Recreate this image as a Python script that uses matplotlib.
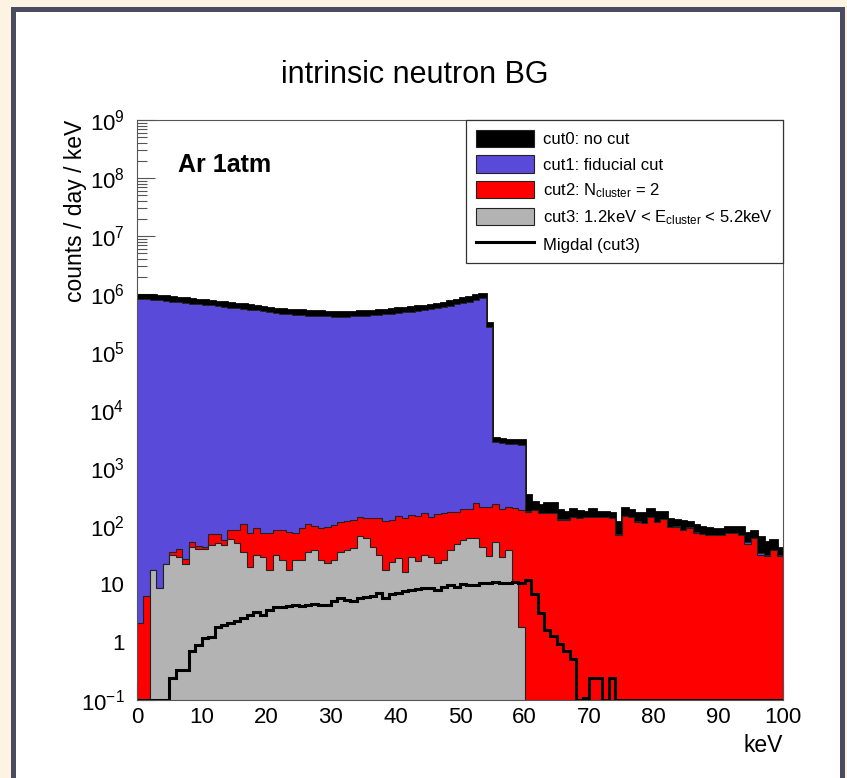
import numpy as np
import matplotlib.pyplot as plt
from matplotlib.patches import Patch, Rectangle
from matplotlib.lines import Line2D
from matplotlib.ticker import LogLocator, NullFormatter

plt.rcParams['font.family'] = ['Liberation Sans', 'DejaVu Sans']
plt.rcParams['mathtext.fontset'] = 'custom'
plt.rcParams['mathtext.rm'] = 'Liberation Sans'
plt.rcParams['mathtext.it'] = 'Liberation Sans:italic'
plt.rcParams['mathtext.bf'] = 'Liberation Sans:bold'

# 1 keV bins from 0 to 100 keV
bin_edges = np.arange(0, 101)

# cut0: no cut
cut0 = [9.7e5, 9.8e5, 9.6e5, 9.4e5, 9.1e5, 8.9e5, 8.6e5, 8.4e5, 8.2e5, 8.0e5,
        7.8e5, 7.6e5, 7.4e5, 7.2e5, 7.0e5, 6.8e5, 6.6e5, 6.4e5, 6.2e5, 6.0e5,
        5.8e5, 5.6e5, 5.5e5, 5.4e5, 5.3e5, 5.2e5, 5.1e5, 5.0e5, 5.0e5, 4.9e5,
        4.9e5, 4.85e5, 4.85e5, 4.9e5, 5.0e5, 5.05e5, 5.15e5, 5.3e5, 5.4e5, 5.5e5,
        5.65e5, 5.75e5, 5.95e5, 6.1e5, 6.3e5, 6.55e5, 6.8e5, 7.1e5, 7.45e5, 7.9e5,
        8.4e5, 8.9e5, 9.5e5, 1.01e6, 3.2e5, 3.3e3, 3.2e3, 3.1e3, 3.0e3, 3.0e3,
        342, 263, 230, 246, 252, 189, 177, 194, 184, 177,
        194, 177, 177, 170, 115, 202, 189, 170, 165, 194,
        177, 177, 130, 127, 124, 119, 104, 95, 91, 88,
        88, 97, 95, 95, 75, 83, 64, 52, 57, 41]

# cut1: fiducial cut
cut1 = [8.1e5, 8.2e5, 8.0e5, 7.8e5, 7.6e5, 7.4e5, 7.2e5, 7.0e5, 6.8e5, 6.65e5,
        6.5e5, 6.35e5, 6.2e5, 6.0e5, 5.85e5, 5.7e5, 5.5e5, 5.35e5, 5.2e5, 5.0e5,
        4.8e5, 4.7e5, 4.6e5, 4.5e5, 4.4e5, 4.3e5, 4.25e5, 4.2e5, 4.15e5, 4.1e5,
        4.06e5, 4.05e5, 4.05e5, 4.1e5, 4.15e5, 4.2e5, 4.3e5, 4.4e5, 4.5e5, 4.6e5,
        4.7e5, 4.8e5, 4.95e5, 5.1e5, 5.25e5, 5.45e5, 5.65e5, 5.9e5, 6.2e5, 6.6e5,
        7.0e5, 7.4e5, 7.9e5, 8.4e5, 2.7e5, 2.8e3, 2.7e3, 2.6e3, 2.6e3, 2.5e3,
        180, 189, 165, 170, 165, 132, 132, 145, 137, 141,
        145, 145, 141, 137, 72, 149, 141, 124, 111, 145,
        119, 130, 95, 101, 85, 95, 78, 73, 70, 70,
        70, 75, 75, 70, 52, 61, 34, 32, 38.5, 32]

# cut2: N_cluster = 2
cut2 = [2.1, 6.2, 17.4, 8.6, 22, 36, 39.6, 26.7, 53.6, 45,
        43, 72, 72, 57, 85, 84, 107, 77, 94, 75,
        77, 84, 85, 80, 75, 93, 107, 100, 91, 97,
        104, 119, 124, 127, 145, 139, 139, 136, 124, 127,
        149, 136, 155, 149, 170, 145, 161, 165, 177, 177,
        196, 198, 246, 215, 210, 240, 194, 210, 202, 189,
        177, 189, 165, 170, 165, 127, 127, 145, 137, 141,
        145, 145, 141, 137, 70, 149, 141, 119, 111, 145,
        119, 130, 95, 97, 85, 91, 75, 73, 70, 70,
        70, 75, 75, 70, 49, 61, 32, 30, 38.5, 30]

# cut3: 1.2 keV < E_cluster < 5.2 keV
cut3 = [0, 0, 17.4, 8.6, 22, 31.6, 29, 22, 44, 39.6,
        39.6, 47, 51.5, 47, 59, 50, 36, 20, 31.6, 29.6,
        17.4, 31.6, 26, 17.4, 26, 26, 36, 38.5, 26, 22.7,
        26, 36, 38.5, 41, 67, 61, 43, 31.6, 17.4, 24,
        27.7, 16.3, 29.6, 25, 31.6, 29.6, 23, 26, 38.5, 48,
        57, 62, 62, 43, 30, 54, 29, 38.5, 11, 1.8,
        0, 0, 0, 0, 0, 0, 0, 0, 0, 0,
        0, 0, 0, 0, 0, 0, 0, 0, 0, 0,
        0, 0, 0, 0, 0, 0, 0, 0, 0, 0,
        0, 0, 0, 0, 0, 0, 0, 0, 0, 0]

# Migdal events after cut3
migdal = [0, 0, 0, 0, 0, 0.24, 0.33, 0.33, 0.7, 0.89,
          1.16, 1.2, 1.84, 1.96, 2.1, 2.3, 2.56, 2.9, 3.3, 2.9,
          3.5, 4.0, 4.0, 4.1, 4.3, 4.1, 4.3, 4.6, 4.3, 4.3,
          5.0, 5.7, 5.3, 5.0, 5.7, 6.0, 6.2, 6.9, 5.7, 6.7,
          6.9, 7.7, 7.9, 8.1, 8.4, 8.6, 7.9, 9.0, 9.6, 9.0,
          9.9, 9.6, 9.6, 10.3, 10.4, 11, 10.3, 10.4, 11, 10.6,
          11.7, 6.7, 3.2, 1.6, 1.29, 0.92, 0.71, 0.51, 0, 0.11,
          0.24, 0.24, 0, 0.24, 0, 0, 0, 0, 0, 0,
          0, 0, 0, 0, 0, 0, 0, 0, 0, 0,
          0, 0, 0, 0, 0, 0, 0, 0, 0, 0]

ymin, ymax = 0.1, 1e9
blue = '#5a4ad9'
red = '#ff0000'
grey = '#b3b3b3'

fig = plt.figure(figsize=(8.47, 7.78), dpi=100)
fig.patch.set_facecolor('#fdf3e2')
fig.add_artist(Rectangle((12.5 / 847, -0.05), (841.5 - 12.5) / 847, 0.98907 + 0.05,
                         transform=fig.transFigure, facecolor='white',
                         edgecolor='#4a4b60', linewidth=3.6, zorder=0))

ax = fig.add_axes([137 / 847, 1 - 700 / 778, 646 / 847, 580 / 778])
ax.set_yscale('log')

ax.stairs(np.clip(cut0, ymin, None), bin_edges, baseline=1e-3, fill=True,
          facecolor='black', edgecolor='black', linewidth=2)
ax.stairs(np.clip(cut1, ymin, None), bin_edges, baseline=1e-3, fill=True,
          facecolor=blue, edgecolor='#222222', linewidth=0.6)
ax.stairs(np.clip(cut2, ymin, None), bin_edges, baseline=1e-3, fill=True,
          facecolor=red, edgecolor='#222222', linewidth=0.8)
ax.stairs(np.clip(cut3, ymin, None), bin_edges, baseline=1e-3, fill=True,
          facecolor=grey, edgecolor='#222222', linewidth=0.8)
ax.stairs(np.clip(migdal, ymin, None), bin_edges, baseline=None,
          color='black', linewidth=2.2)

ax.set_xlim(0, 100)
ax.set_ylim(ymin, ymax)
ax.set_axisbelow(True)

yticks = [10.0 ** k for k in range(-1, 10)]
ylabels = [r'$\mathregular{10^{-1}}$', '1', '10'] + \
          [r'$\mathregular{10^{%d}}$' % k for k in range(2, 10)]
ax.set_yticks(yticks, ylabels)
ax.yaxis.set_minor_locator(LogLocator(base=10, subs=np.arange(2, 10), numticks=100))
ax.yaxis.set_minor_formatter(NullFormatter())
ax.set_xticks(range(0, 101, 10))

ax.tick_params(which='both', direction='in', labelsize=16, color='#555555', width=0.8)
ax.tick_params(which='major', length=13)
ax.tick_params(which='minor', length=7)
ax.tick_params(axis='y', pad=9)
ax.tick_params(axis='x', pad=5)
for sp in ax.spines.values():
    sp.set_color('#555555')
    sp.set_linewidth(0.8)

ax.set_ylabel('counts / day / keV', fontsize=16.5, loc='top')
ax.yaxis.set_label_coords(-0.077, 1.0)
ax.set_xlabel('keV', fontsize=16.5, loc='right', labelpad=4)

fig.text(0.49, 1 - 75 / 778, 'intrinsic neutron BG', ha='center', va='center', fontsize=22)
ax.text(0.063, 0.922, 'Ar 1atm', transform=ax.transAxes, fontsize=18,
        fontweight='bold', va='center')

handles = [
    Patch(facecolor='black', edgecolor='#222222', linewidth=0.8),
    Patch(facecolor=blue, edgecolor='#222222', linewidth=0.8),
    Patch(facecolor=red, edgecolor='#222222', linewidth=0.8),
    Patch(facecolor=grey, edgecolor='#222222', linewidth=0.8),
    Line2D([], [], color='black', linewidth=2.2),
]
labels = [
    'cut0: no cut',
    'cut1: fiducial cut',
    r'cut2: N$_{\mathregular{cluster}}$ = 2',
    r'cut3: 1.2keV < E$_{\mathregular{cluster}}$ < 5.2keV',
    'Migdal (cut3)',
]
leg = ax.legend(handles, labels, loc='upper right', bbox_to_anchor=(1, 1),
                borderaxespad=0, fontsize=12, fancybox=False, framealpha=1,
                edgecolor='#333333', handlelength=3.5, handleheight=1.2,
                handletextpad=0.55, labelspacing=0.5, borderpad=0.6)
leg.get_frame().set_linewidth(0.9)

fig.savefig('out.png', dpi=100)
